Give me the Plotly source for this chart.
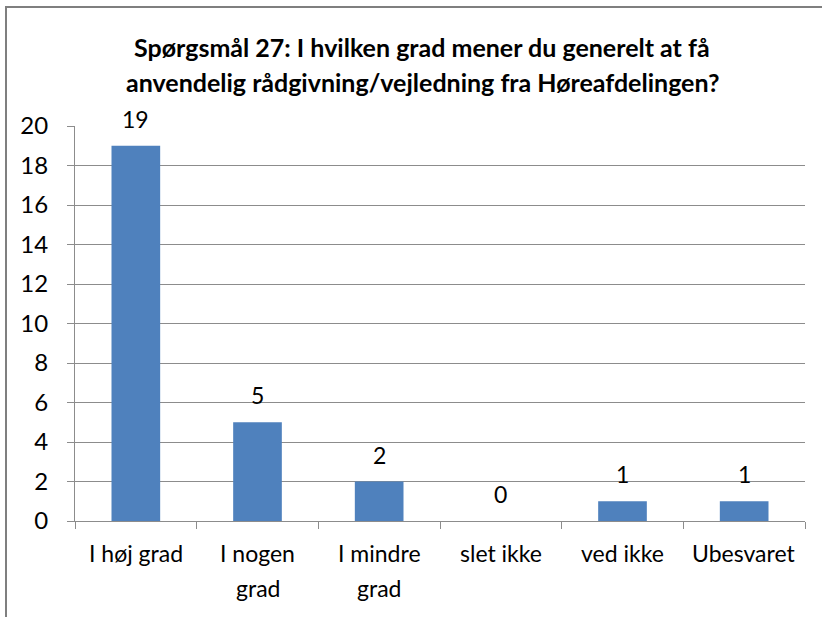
import plotly.graph_objects as go

categories = ["I høj grad", "I nogen grad", "I mindre grad", "slet ikke", "ved ikke", "Ubesvaret"]
tick_lines = [["I høj grad"], ["I nogen", "grad"], ["I mindre", "grad"], ["slet ikke"], ["ved ikke"], ["Ubesvaret"]]
values = [19, 5, 2, 0, 1, 1]
title_lines = ["Spørgsmål 27: I hvilken grad mener du generelt at få",
               "anvendelig rådgivning/vejledning fra Høreafdelingen?"]

W, H = 822, 617
ML, MR, MT, MB = 75, 17, 126, 96
PW, PH = W - ML - MR, H - MT - MB

FONT = "Lato, Carlito, Calibri, sans-serif"
GRID = "#8c8c8c"

fig = go.Figure()
fig.add_trace(go.Bar(
    x=categories, y=values,
    marker=dict(color="#4F81BD", line=dict(width=0)),
    width=0.4, hoverinfo="skip",
))

annotations = []
# value labels
for c, v in zip(categories, values):
    annotations.append(dict(x=c, y=v, xref="x", yref="y", text=str(v), showarrow=False,
                            yanchor="middle", yshift=27,
                            font=dict(family=FONT, size=23, color="#000")))
# category labels (multi-line, Excel-like spacing)
for c, lines in zip(categories, tick_lines):
    for i, ln in enumerate(lines):
        annotations.append(dict(x=c, y=0, xref="x", yref="paper", text=ln, showarrow=False,
                                yanchor="middle", yshift=-32 - 35 * i,
                                font=dict(family=FONT, size=23, color="#000")))
# title
for i, ln in enumerate(title_lines):
    annotations.append(dict(x=(422 - ML) / PW, y=(H - MB - (47 + 35 * i)) / PH,
                            xref="paper", yref="paper", text="<b>" + ln + "</b>",
                            showarrow=False, yanchor="middle", xanchor="center",
                            font=dict(family=FONT, size=25, color="#000")))

fig.update_layout(
    width=W, height=H,
    margin=dict(l=ML, r=MR, t=MT, b=MB),
    paper_bgcolor="white", plot_bgcolor="white",
    showlegend=False,
    annotations=annotations,
    xaxis=dict(type="category", showticklabels=False, showgrid=False,
               showline=True, linecolor=GRID, linewidth=1,
               ticks="outside", tickson="boundaries", ticklen=7, tickcolor=GRID,
               fixedrange=True),
    yaxis=dict(range=[0, 20], dtick=2, tick0=0, showgrid=True, gridcolor=GRID, gridwidth=1,
               showline=True, linecolor=GRID, linewidth=1, zeroline=False,
               ticks="outside", ticklen=7, tickcolor=GRID, ticklabelstandoff=14,
               tickfont=dict(family=FONT, size=24, color="#000"),
               fixedrange=True),
    shapes=[dict(type="rect", xref="paper", yref="paper",
                 x0=(6 - ML) / PW, x1=(840 - ML) / PW,
                 y0=(H - MB - 640) / PH, y1=(H - MB - 7) / PH,
                 line=dict(color="#7f7f7f", width=2), layer="below")],
)

fig.write_html("out.html", config={"displayModeBar": False},
               post_script="document.body.style.margin='0';document.body.style.overflow='hidden';")
